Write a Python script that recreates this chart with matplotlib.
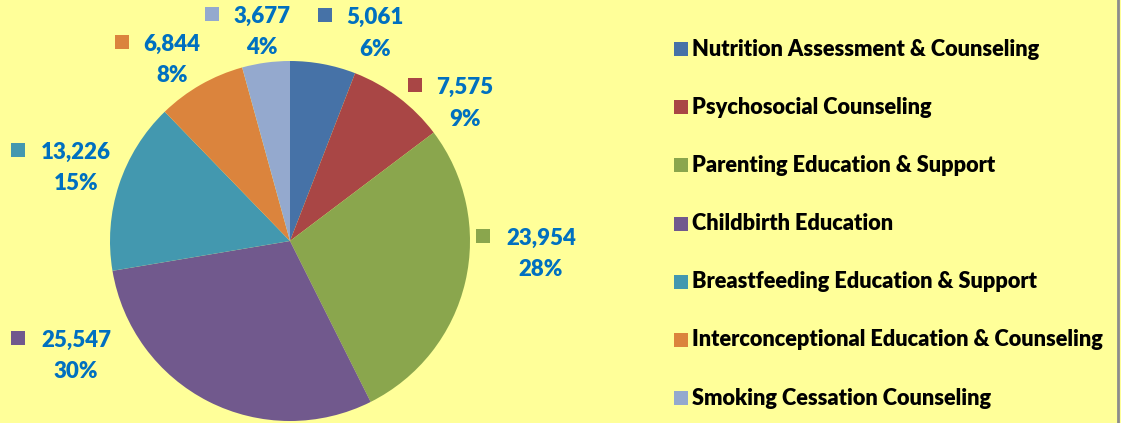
import matplotlib.pyplot as plt

# Data
categories = [
    'Nutrition Assessment & Counseling',
    'Psychosocial Counseling',
    'Parenting Education & Support',
    'Childbirth Education',
    'Breastfeeding Education & Support',
    'Interconceptional Education & Counseling',
    'Smoking Cessation Counseling',
]
values = [5061, 7575, 23954, 25547, 13226, 6844, 3677]
colors = ['#4672A7', '#A94645', '#8AA64D', '#71598D', '#4398AF', '#DB843D', '#94A9CE']

# label anchor (x, y of value line) in pixels, layout only
label_pos = [(375, 17), (465, 87), (541, 238), (76, 340), (76, 152), (172, 44), (262, 16)]

W, H = 1121, 423
BG = '#FFFF99'
LBL = '#0070C0'
plt.rcParams['font.family'] = ['Lato', 'DejaVu Sans']

fig = plt.figure(figsize=(W / 100, H / 100), dpi=100, facecolor=BG)

# pie: center (290, 241), radius 180 px
cx, cy, r = 290, 241, 180
ax = fig.add_axes([(cx - r) / W, (H - cy - r) / H, 2 * r / W, 2 * r / H])
ax.pie(values, colors=colors, startangle=90, counterclock=False, radius=1,
       wedgeprops=dict(linewidth=0))
ax.set_xlim(-1, 1)
ax.set_ylim(-1, 1)
ax.set_aspect('equal')
ax.axis('off')

# overlay in pixel coords for labels and legend
ov = fig.add_axes([0, 0, 1, 1], facecolor='none')
ov.set_xlim(0, W)
ov.set_ylim(H, 0)
ov.axis('off')

total = sum(values)
for v, c, (x, y) in zip(values, colors, label_pos):
    txt = f'{v:,}'
    ov.text(x, y, txt, ha='center', va='center', fontsize=16,
            fontweight='heavy', color=LBL)
    ov.text(x, y + 32, f'{v / total:.0%}', ha='center', va='center',
            fontsize=16, fontweight='heavy', color=LBL)
    ov.scatter([x - 8.0 * len(txt) - 10], [y - 2], marker='s', s=95, color=c,
               linewidths=0)

# legend
for i, (name, c) in enumerate(zip(categories, colors)):
    y = 49 + i * 58.2
    ov.scatter([681], [y], marker='s', s=100, color=c, linewidths=0)
    ov.text(692, y, name, ha='left', va='center', fontsize=15.7,
            fontweight='heavy', color='black')

ov.plot([1118, 1118], [0, H], color='#8C8C8C', linewidth=2)

fig.savefig('out.png', dpi=100, facecolor=BG)
